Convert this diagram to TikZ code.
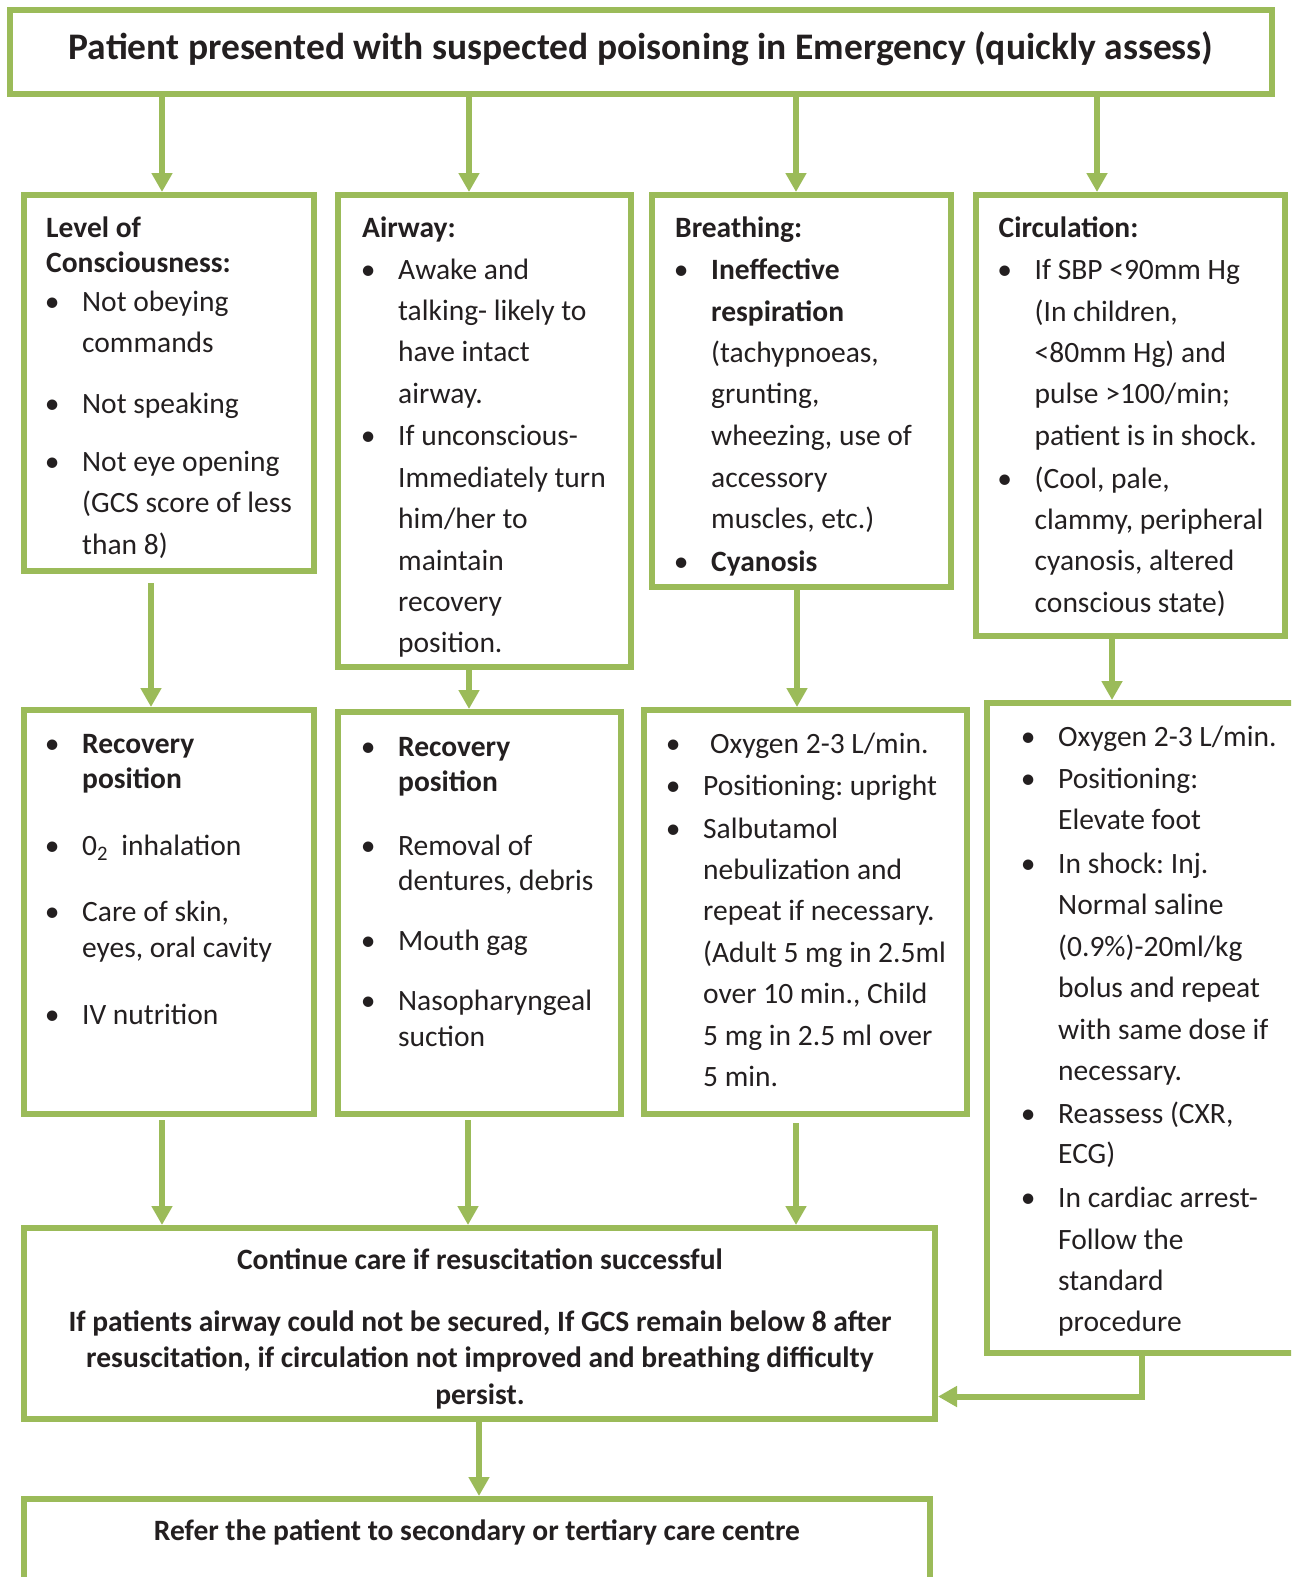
\documentclass[tikz,border=0pt]{standalone}
\usepackage{fontspec}
\setmainfont{Carlito}
\usetikzlibrary{arrows.meta}
\definecolor{leaf}{HTML}{9BBB59}
\definecolor{ink}{HTML}{231F20}
\frenchspacing
% bullet with hanging indent, and the matching indent for continuation lines
\newcommand\bul{\makebox[36pt][l]{\makebox[12pt][c]{•}}}
\newcommand\ind{\hspace*{36pt}}
\newcommand\topstrut{\rule{0pt}{25pt}}

\begin{document}
\begin{tikzpicture}[x=1pt,y=-1pt,
  box/.style={draw=leaf,line width=6pt,rectangle,inner sep=0pt},
  body/.style={anchor=north west,inner sep=0pt,align=left,text=ink,
    font=\fontsize{29.5}{41.3}\selectfont},
  arr/.style={draw=leaf,line width=6pt,
    -{Triangle[width=20pt,length=19pt,fill=leaf]}}]

\clip (0,0) rectangle (1291,1577);

% ---- boxes ----
\node[box,minimum width=1262,minimum height=84]  (top)  at (641,52) {};
\node[box,minimum width=290,minimum height=376]  (lvl)  at (169,383) {};
\node[box,minimum width=293,minimum height=472]  (air)  at (484.5,431) {};
\node[box,minimum width=299,minimum height=392]  (brt)  at (801.5,391) {};
\node[box,minimum width=309,minimum height=441]  (cir)  at (1130.5,415.5) {};
\node[box,minimum width=290,minimum height=404]  (rec)  at (169,912) {};
\node[box,minimum width=283,minimum height=402]  (clr)  at (479.5,913) {};
\node[box,minimum width=323,minimum height=404]  (oxy)  at (805.5,912) {};
\node[box,minimum width=313,minimum height=650]  (shk)  at (1143.5,1028) {};
\node[box,minimum width=911,minimum height=191]  (cont) at (479.5,1323.5) {};
\node[box,minimum width=906,minimum height=101]  (ref)  at (477,1549.5) {};

% ---- texts ----
\node[anchor=base,inner sep=0pt,text=ink,font=\fontsize{37.5}{44}\selectfont\bfseries]
  (ttl) at (641,59) {Patient presented with suspected poisoning in Emergency (quickly assess)};

\node[body] (tlvl) at (46,212) {\topstrut\textbf{Level of}\\[-6.3pt]
\textbf{Consciousness:}\\[-2.3pt]
\bul Not obeying\\
\ind commands\\[19.7pt]
\bul Not speaking\\[16.7pt]
\bul Not eye opening\\
\ind (GCS score of less\\
\ind than 8)};

\node[body] (tair) at (362,212) {\topstrut\textbf{Airway:}\\[0.7pt]
\bul Awake and\\
\ind talking- likely to\\
\ind have intact\\
\ind airway.\\[0.7pt]
\bul If unconscious-\\[1pt]
\ind Immediately turn\\
\ind him/her to\\
\ind maintain\\
\ind recovery\\
\ind position.};

\node[body] (tbrt) at (675,212) {\topstrut\textbf{Breathing:}\\[0.7pt]
\bul\textbf{Ineffective}\\[0.7pt]
\ind\textbf{respiration}\\
\ind (tachypnoeas,\\
\ind grunting,\\
\ind wheezing, use of\\[0.7pt]
\ind accessory\\
\ind muscles, etc.)\\[1.7pt]
\bul\textbf{Cyanosis}};

\node[body] (tcir) at (998.5,212) {\topstrut\textbf{Circulation:}\\[0.7pt]
\bul If SBP <90mm Hg\\[0.7pt]
\ind (In children,\\
\ind <80mm Hg) and\\
\ind pulse >100/min;\\
\ind patient is in shock.\\[1.7pt]
\bul (Cool, pale,\\
\ind clammy, peripheral\\
\ind cyanosis, altered\\
\ind conscious state)};

\node[body] (trec) at (46,728) {\topstrut\bul\textbf{Recovery}\\[-6.3pt]
\ind\textbf{position}\\[25.7pt]
\bul 0\textsubscript{2}~ inhalation\\[24.7pt]
\bul Care of skin,\\[-5.3pt]
\ind eyes, oral cavity\\[25.7pt]
\bul IV nutrition};

\node[body] (tclr) at (362,731) {\topstrut\bul\textbf{Recovery}\\[-6.3pt]
\ind\textbf{position}\\[22.7pt]
\bul Removal of\\[-6.3pt]
\ind dentures, debris\\[18.7pt]
\bul Mouth gag\\[18.7pt]
\bul Nasopharyngeal\\[-5.3pt]
\ind suction};

\node[body] (toxy) at (667,728) {\topstrut\bul\hspace{7pt}Oxygen 2-3 L/min.\\[0.7pt]
\bul Positioning: upright\\[1.7pt]
\bul Salbutamol\\
\ind nebulization and\\
\ind repeat if necessary.\\
\ind (Adult 5 mg in 2.5ml\\
\ind over 10 min., Child\\[0.7pt]
\ind 5 mg in 2.5 ml over\\
\ind 5 min.};

\node[body] (tshk) at (1022,721) {\topstrut\bul Oxygen 2-3 L/min.\\[0.7pt]
\bul Positioning:\\
\ind Elevate foot\\[2.7pt]
\bul In shock: Inj.\\
\ind Normal saline\\
\ind (0.9\%)-20ml/kg\\
\ind bolus and repeat\\[0.7pt]
\ind with same dose if\\
\ind necessary.\\[1.7pt]
\bul Reassess (CXR,\\[-1.3pt]
\ind ECG)\\[2.7pt]
\bul In cardiac arrest-\\
\ind Follow the\\
\ind standard\\
\ind procedure};

\node[anchor=north,inner sep=0pt,align=center,text=ink,
  font=\fontsize{29.5}{36.5}\selectfont\bfseries] (tcont) at (480,1244)
  {\topstrut Continue care if resuscitation successful\\[25.5pt]
   If patients airway could not be secured, If GCS remain below 8 after\\
   resuscitation, if circulation not improved and breathing difficulty\\
   persist.};

\node[anchor=base,inner sep=0pt,text=ink,font=\fontsize{29.5}{34}\selectfont\bfseries]
  (tref) at (477,1540) {Refer the patient to secondary or tertiary care centre};

% ---- connector columns ----
\coordinate (a1) at (162,0);  \coordinate (a2) at (469,0);
\coordinate (a3) at (796,0);  \coordinate (a4) at (1097,0);
\coordinate (b1) at (151,0);  \coordinate (b2) at (469,0);
\coordinate (b3) at (797,0);  \coordinate (b4) at (1112,0);
\coordinate (d1) at (162,0);  \coordinate (d2) at (468,0);
\coordinate (d3) at (796,0);  \coordinate (e1) at (479,0);
\coordinate (ex) at (1142,0); \coordinate (ey) at (0,1396.5);

% ---- connectors ----
\draw[arr] (top.south -| a1) -- (lvl.north -| a1);
\draw[arr] (top.south -| a2) -- (air.north -| a2);
\draw[arr] (top.south -| a3) -- (brt.north -| a3);
\draw[arr] (top.south -| a4) -- (cir.north -| a4);

\draw[arr,shorten <=9pt] (lvl.south -| b1) -- (rec.north -| b1);
\draw[arr] (air.south -| b2) -- (clr.north -| b2);
\draw[arr] (brt.south -| b3) -- (oxy.north -| b3);
\draw[arr] (cir.south -| b4) -- (shk.north -| b4);

\draw[arr,shorten <=3pt] (rec.south -| d1) -- (cont.north -| d1);
\draw[arr,shorten <=3pt] (clr.south -| d2) -- (cont.north -| d2);
\draw[arr,shorten <=6pt] (oxy.south -| d3) -- (cont.north -| d3);

\draw[arr] (shk.south -| ex) |- (cont.east |- ey);
\draw[arr] (cont.south -| e1) -- (ref.north -| e1);
\end{tikzpicture}
\end{document}
